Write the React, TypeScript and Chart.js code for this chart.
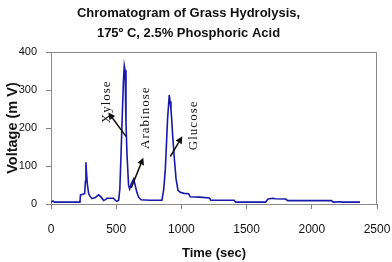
import React, { useEffect, useRef } from 'react';
import { Chart, registerables } from 'chart.js';

Chart.register(...registerables);

// ---- data ----
const timeSec = [
  0, 15, 25, 200, 222, 226, 258, 264, 268, 272, 278, 289, 300, 314, 340, 365, 385, 404, 420, 430, 480, 492, 505,
  519, 528, 536, 545, 555, 562, 568, 575, 583, 595, 603, 618, 634, 645, 659, 672, 690, 760, 851, 865, 877, 894,
  907, 913, 920, 927, 933, 946, 959, 974, 991, 1020, 1055, 1068, 1140, 1215, 1225, 1405, 1415, 1645, 1665, 1700,
  1720, 1800, 1815, 2150, 2165, 2220, 2240, 2370,
];
const voltageMV = [
  5, 8, 5, 5, 5, 24, 27, 60, 110, 85, 54, 27, 20, 14, 17, 24, 18, 9, 12, 15, 15, 10, 7,
  10, 40, 120, 215, 320, 364, 352, 215, 128, 49, 40, 55, 66, 50, 30, 18, 11, 10, 10, 40, 93, 224,
  287, 270, 250, 215, 180, 119, 66, 36, 31, 28, 27, 19, 18, 16, 10, 10, 5, 5, 13, 15,
  14, 13, 9, 9, 5, 6, 5, 5,
];
const xTickValues = [0, 500, 1000, 1500, 2000, 2500];
const yTickValues = [0, 100, 200, 300, 400];
const titleLines = ['Chromatogram of Grass Hydrolysis,', '175º C, 2.5% Phosphoric Acid'];
const xAxisTitle = 'Time (sec)';
const yAxisTitle = 'Voltage (m V)';

// peak annotations (anchor points in data units: [time, voltage])
const peakNames = ['Xylose', 'Arabinose', 'Glucose'];
const peakLabelAt = [[424, 269], [728, 227], [1094, 207]];
const arrowFrom = [[575, 178], [616, 43], [915, 125]];
const arrowTo = [[439, 241], [708, 122], [1007, 178]];

const SANS = "'Liberation Sans', Arial, sans-serif";

const framePlugin = {
  id: 'frame',
  beforeDatasetsDraw(chart: any) {
    const { ctx, chartArea: a } = chart;
    ctx.save();
    ctx.strokeStyle = '#8a8a8a';
    ctx.lineWidth = 1;
    ctx.strokeRect(Math.round(a.left) + 0.5, Math.round(a.top) + 0.5, Math.round(a.right - a.left) - 1, Math.round(a.bottom - a.top));
    ctx.restore();
  },
};

const annotationPlugin = {
  id: 'peakNotes',
  afterDatasetsDraw(chart: any) {
    const { ctx } = chart;
    const xs = chart.scales.x;
    const ys = chart.scales.y;
    ctx.save();
    ctx.fillStyle = '#111';
    ctx.strokeStyle = '#111';
    ctx.font = "13px 'Liberation Serif', 'Times New Roman', serif";
    try { (ctx as any).letterSpacing = '1px'; } catch (e) {}
    ctx.textAlign = 'center';
    ctx.textBaseline = 'middle';
    peakNames.forEach((name, i) => {
      const px = xs.getPixelForValue(peakLabelAt[i][0]);
      const py = ys.getPixelForValue(peakLabelAt[i][1]);
      ctx.save();
      ctx.translate(px, py);
      ctx.rotate(-Math.PI / 2);
      ctx.fillText(name, 0, 0);
      ctx.restore();

      const x0 = xs.getPixelForValue(arrowFrom[i][0]);
      const y0 = ys.getPixelForValue(arrowFrom[i][1]);
      const x1 = xs.getPixelForValue(arrowTo[i][0]);
      const y1 = ys.getPixelForValue(arrowTo[i][1]);
      const ang = Math.atan2(y1 - y0, x1 - x0);
      const h = 7;
      const w = 3.5;
      const bx = x1 - h * Math.cos(ang);
      const by = y1 - h * Math.sin(ang);
      ctx.lineWidth = 1.5;
      ctx.beginPath();
      ctx.moveTo(x0, y0);
      ctx.lineTo(bx, by);
      ctx.stroke();
      ctx.beginPath();
      ctx.moveTo(x1, y1);
      ctx.lineTo(bx + w * Math.sin(ang), by - w * Math.cos(ang));
      ctx.lineTo(bx - w * Math.sin(ang), by + w * Math.cos(ang));
      ctx.closePath();
      ctx.fill();
    });
    ctx.restore();
  },
};

export default function App() {
  const ref = useRef<HTMLCanvasElement | null>(null);

  useEffect(() => {
    document.body.style.margin = '0';
    const canvas = ref.current;
    if (!canvas) return;
    const chart = new Chart(canvas, {
      type: 'line',
      data: {
        datasets: [
          {
            data: timeSec.map((t, i) => ({ x: t, y: voltageMV[i] })),
            borderColor: '#1818aa',
            borderWidth: 1.6,
            pointRadius: 0,
            tension: 0,
            fill: false,
          },
        ],
      },
      options: {
        responsive: false,
        animation: false,
        devicePixelRatio: 1,
        layout: { padding: { top: 0, right: 15, bottom: 0, left: 0 } },
        plugins: {
          legend: { display: false },
          tooltip: { enabled: false },
          title: {
            display: true,
            text: titleLines,
            color: '#111',
            font: { family: SANS, size: 13, weight: 'bold', lineHeight: 20 / 13 },
            padding: { top: 3, bottom: 9 },
          },
        },
        scales: {
          x: {
            type: 'linear',
            min: 0,
            max: 2500,
            afterBuildTicks: (s: any) => { s.ticks = xTickValues.map((v) => ({ value: v })); },
            afterFit: (s: any) => { s.height = 58; s.paddingLeft = 0; s.paddingRight = 0; },
            ticks: { color: '#111', padding: 13, font: { family: SANS, size: 12 }, callback: (v: any) => String(v) },
            grid: { drawOnChartArea: false, drawTicks: true, tickLength: 5, color: '#808080' },
            border: { display: true, color: '#808080' },
            title: {
              display: true,
              text: xAxisTitle,
              color: '#111',
              font: { family: SANS, size: 13, weight: 'bold', lineHeight: 1.2 },
              padding: { top: 0, bottom: 1 },
            },
          },
          y: {
            type: 'linear',
            min: 0,
            max: 400,
            afterBuildTicks: (s: any) => { s.ticks = yTickValues.map((v) => ({ value: v })); },
            afterFit: (s: any) => { s.width = 51; s.paddingTop = 0; s.paddingBottom = 0; },
            ticks: { color: '#111', padding: 9, font: { family: SANS, size: 11 }, callback: (v: any) => String(v) },
            grid: { drawOnChartArea: false, drawTicks: true, tickLength: 5, color: '#808080' },
            border: { display: true, color: '#808080' },
            title: {
              display: true,
              text: yAxisTitle,
              color: '#111',
              font: { family: SANS, size: 14.5, weight: 'bold', lineHeight: 1.2 },
              padding: { top: 4, bottom: 0 },
            },
          },
        },
      },
      plugins: [framePlugin, annotationPlugin],
    });
    return () => chart.destroy();
  }, []);

  return (
    <div style={{ width: 392, height: 262, background: '#fff' }}>
      <canvas ref={ref} width={392} height={262} style={{ display: 'block' }} />
    </div>
  );
}
